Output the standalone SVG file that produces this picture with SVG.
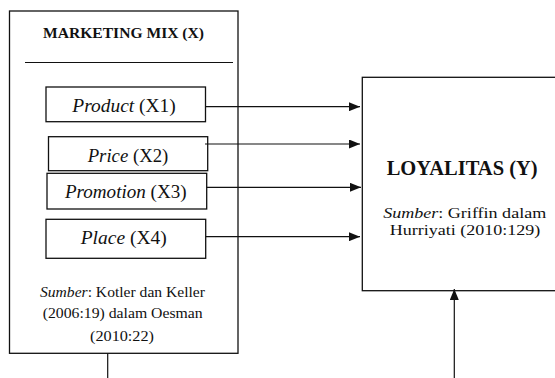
<svg xmlns="http://www.w3.org/2000/svg" width="555" height="378" viewBox="0 0 555 378">
<style>
.box{fill:#fff;stroke:#111;stroke-width:1.3}
.t{font-family:"Liberation Serif","Times New Roman",serif;fill:#111;text-anchor:middle}
.b{font-weight:bold}
.i{font-style:italic}
.ln{stroke:#111;stroke-width:1.2;fill:none}
</style>
<defs>
<marker id="ah" markerWidth="11" markerHeight="9" refX="11" refY="4.5" orient="auto" markerUnits="userSpaceOnUse">
<path d="M0,0 L11,4.5 L0,9 Z" fill="#111"/>
</marker>
</defs>
<rect width="555" height="378" fill="#fff"/>
<g id="marketing-mix">
<rect class="box" x="9.5" y="11" width="228.5" height="342.3"/>
<text class="t b" x="123.5" y="38.3" font-size="15.5" textLength="161" lengthAdjust="spacingAndGlyphs">MARKETING MIX (X)</text>
<line class="ln" x1="25" y1="62.5" x2="233" y2="62.5"/>
<text class="t" x="122.5" y="297.3" font-size="15.5" textLength="165" lengthAdjust="spacingAndGlyphs"><tspan class="i">Sumber</tspan>: Kotler dan Keller</text>
<text class="t" x="122.7" y="318.3" font-size="15.5" textLength="160" lengthAdjust="spacingAndGlyphs">(2006:19) dalam Oesman</text>
<text class="t" x="122" y="340.7" font-size="15.5" textLength="64" lengthAdjust="spacingAndGlyphs">(2010:22)</text>
</g>
<g id="product">
<rect class="box" x="46" y="87" width="159.5" height="34.7"/>
<text class="t" x="124" y="112.3" font-size="18" textLength="103.4" lengthAdjust="spacingAndGlyphs"><tspan class="i">Product</tspan> (X1)</text>
</g>
<g id="price">
<rect class="box" x="48.5" y="136.7" width="159.2" height="34"/>
<text class="t" x="128" y="161.7" font-size="18" textLength="80.6" lengthAdjust="spacingAndGlyphs"><tspan class="i">Price</tspan> (X2)</text>
</g>
<g id="promotion">
<rect class="box" x="47" y="173.3" width="159.7" height="35.7"/>
<text class="t" x="125.8" y="198.3" font-size="18" textLength="121.7" lengthAdjust="spacingAndGlyphs"><tspan class="i">Promotion</tspan> (X3)</text>
</g>
<g id="place">
<rect class="box" x="46" y="219.3" width="159.7" height="39"/>
<text class="t" x="123.7" y="244" font-size="18" textLength="86" lengthAdjust="spacingAndGlyphs"><tspan class="i">Place</tspan> (X4)</text>
</g>
<g id="loyalitas">
<rect class="box" x="362.3" y="77.3" width="200" height="213.4"/>
<text class="t b" x="462.2" y="175" font-size="20" textLength="151" lengthAdjust="spacingAndGlyphs">LOYALITAS (Y)</text>
<text class="t" x="464.7" y="218" font-size="15" textLength="163" lengthAdjust="spacingAndGlyphs"><tspan class="i">Sumber</tspan>: Griffin dalam</text>
<text class="t" x="465" y="235" font-size="15" textLength="150.6" lengthAdjust="spacingAndGlyphs">Hurriyati (2010:129)</text>
</g>
<g id="connectors">
<line class="ln" x1="205.7" y1="106.7" x2="360" y2="106.7" marker-end="url(#ah)"/>
<line class="ln" x1="205" y1="144" x2="360" y2="144" marker-end="url(#ah)"/>
<line class="ln" x1="206.7" y1="187.3" x2="361" y2="187.3" marker-end="url(#ah)"/>
<line class="ln" x1="205.7" y1="236.7" x2="360" y2="236.7" marker-end="url(#ah)"/>
<line class="ln" x1="107.7" y1="353.3" x2="107.7" y2="378"/>
<line class="ln" x1="454.3" y1="378" x2="454.3" y2="289" marker-end="url(#ah)"/>
</g>
</svg>
